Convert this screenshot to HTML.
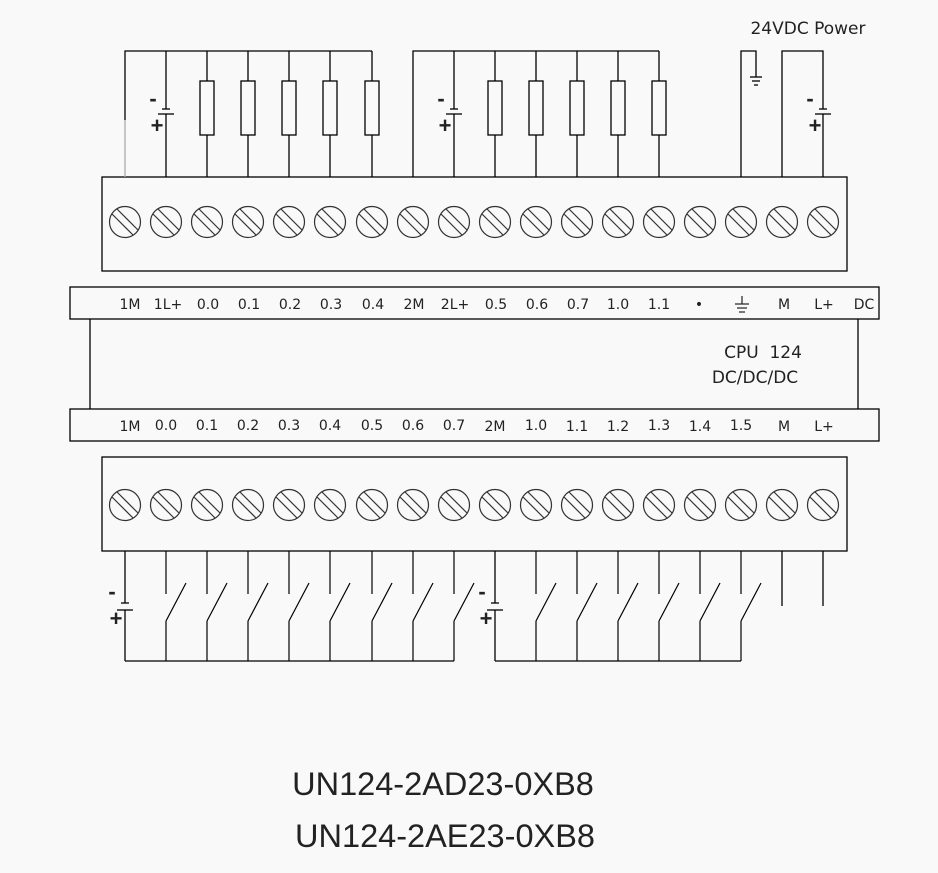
<!DOCTYPE html>
<html><head><meta charset="utf-8"><style>
html,body{margin:0;padding:0;background:#f9f9f9;}
svg{display:block;}
text{font-family:"DejaVu Sans","Liberation Sans",sans-serif;fill:#222;}
text.lib{font-family:"Liberation Sans",sans-serif;}
</style></head><body>
<svg width="938" height="873" viewBox="0 0 938 873" xmlns="http://www.w3.org/2000/svg">
<defs>
<g id="t" fill="none" stroke="#333" stroke-width="1.2">
<circle r="15.5"/><line x1="-13" y1="-8" x2="8" y2="13"/><line x1="-8" y1="-13" x2="13" y2="8"/>
</g>
<g id="r"><rect x="-7" y="81" width="14" height="54" fill="#f9f9f9" stroke="#000" stroke-width="1.3"/></g>
</defs>
<g stroke="#000" stroke-width="1.3" fill="none">
<rect x="102" y="177" width="745" height="94"/>
<rect x="70" y="287" width="809" height="32"/>
<line x1="90" y1="319" x2="90" y2="409"/><line x1="858" y1="319" x2="858" y2="409"/>
<rect x="70" y="409" width="809" height="32"/>
<rect x="102" y="457" width="745" height="94"/>
<polyline points="125,120 125,51 372,51"/>
<line x1="125" y1="120" x2="125" y2="177" stroke="#aaa"/>
<line x1="166" y1="51" x2="166" y2="109"/><line x1="166" y1="114" x2="166" y2="177"/>
<line x1="162" y1="109" x2="170" y2="109"/><line x1="158" y1="114" x2="174" y2="114"/>
<line x1="207" y1="51" x2="207" y2="177"/><line x1="248" y1="51" x2="248" y2="177"/>
<line x1="289" y1="51" x2="289" y2="177"/><line x1="330" y1="51" x2="330" y2="177"/>
<line x1="372" y1="51" x2="372" y2="177"/>
<polyline points="413,177 413,51 659,51"/>
<line x1="454" y1="51" x2="454" y2="109"/><line x1="454" y1="114" x2="454" y2="177"/>
<line x1="450" y1="109" x2="458" y2="109"/><line x1="446" y1="114" x2="462" y2="114"/>
<line x1="495" y1="51" x2="495" y2="177"/><line x1="536" y1="51" x2="536" y2="177"/>
<line x1="577" y1="51" x2="577" y2="177"/><line x1="618" y1="51" x2="618" y2="177"/>
<line x1="659" y1="51" x2="659" y2="177"/>
<polyline points="741,177 741,51 756,51 756,77"/>
<line x1="750" y1="77" x2="762" y2="77"/><line x1="752" y1="81" x2="760" y2="81"/><line x1="754" y1="85" x2="758" y2="85"/>
<polyline points="782,177 782,51 823,51 823,109"/>
<line x1="823" y1="114" x2="823" y2="177"/>
<line x1="819" y1="109" x2="827" y2="109"/><line x1="815" y1="114" x2="831" y2="114"/>
<line x1="125" y1="551" x2="125" y2="603"/><line x1="125" y1="610" x2="125" y2="661"/>
<line x1="121" y1="603" x2="129" y2="603"/><line x1="117" y1="610" x2="133" y2="610"/>
<line x1="125" y1="661" x2="454" y2="661"/>
<line x1="495" y1="551" x2="495" y2="603"/><line x1="495" y1="610" x2="495" y2="661"/>
<line x1="491" y1="603" x2="499" y2="603"/><line x1="487" y1="610" x2="503" y2="610"/>
<line x1="495" y1="661" x2="741" y2="661"/>
<line x1="782" y1="551" x2="782" y2="606"/><line x1="823" y1="551" x2="823" y2="606"/>
</g>
<g fill="#f9f9f9"><use href="#r" x="207"/><use href="#r" x="248"/><use href="#r" x="289"/><use href="#r" x="330"/><use href="#r" x="372"/>
<use href="#r" x="495"/><use href="#r" x="536"/><use href="#r" x="577"/><use href="#r" x="618"/><use href="#r" x="659"/></g>
<g stroke="#000" stroke-width="1.2" fill="none">
<path d="M166 551V594M166 621L186 583M166 621V661"/>
<path d="M207 551V594M207 621L227 583M207 621V661"/>
<path d="M248 551V594M248 621L268 583M248 621V661"/>
<path d="M289 551V594M289 621L309 583M289 621V661"/>
<path d="M330 551V594M330 621L350 583M330 621V661"/>
<path d="M372 551V594M372 621L392 583M372 621V661"/>
<path d="M413 551V594M413 621L433 583M413 621V661"/>
<path d="M454 551V594M454 621L474 583M454 621V661"/>
<path d="M536 551V594M536 621L556 583M536 621V661"/>
<path d="M577 551V594M577 621L597 583M577 621V661"/>
<path d="M618 551V594M618 621L638 583M618 621V661"/>
<path d="M659 551V594M659 621L679 583M659 621V661"/>
<path d="M700 551V594M700 621L720 583M700 621V661"/>
<path d="M741 551V594M741 621L761 583M741 621V661"/>
</g>
<g>
<use href="#t" x="125" y="222"/><use href="#t" x="166" y="222"/><use href="#t" x="207" y="222"/><use href="#t" x="248" y="222"/><use href="#t" x="289" y="222"/><use href="#t" x="330" y="222"/><use href="#t" x="372" y="222"/><use href="#t" x="413" y="222"/><use href="#t" x="454" y="222"/><use href="#t" x="495" y="222"/><use href="#t" x="536" y="222"/><use href="#t" x="577" y="222"/><use href="#t" x="618" y="222"/><use href="#t" x="659" y="222"/><use href="#t" x="700" y="222"/><use href="#t" x="741" y="222"/><use href="#t" x="782" y="222"/><use href="#t" x="823" y="222"/>
<use href="#t" x="125" y="505"/><use href="#t" x="166" y="505"/><use href="#t" x="207" y="505"/><use href="#t" x="248" y="505"/><use href="#t" x="289" y="505"/><use href="#t" x="330" y="505"/><use href="#t" x="372" y="505"/><use href="#t" x="413" y="505"/><use href="#t" x="454" y="505"/><use href="#t" x="495" y="505"/><use href="#t" x="536" y="505"/><use href="#t" x="577" y="505"/><use href="#t" x="618" y="505"/><use href="#t" x="659" y="505"/><use href="#t" x="700" y="505"/><use href="#t" x="741" y="505"/><use href="#t" x="782" y="505"/><use href="#t" x="823" y="505"/>
</g>
<g font-weight="bold" font-size="22" text-anchor="middle">
<text class="lib" x="153" y="106">-</text><text class="lib" x="157" y="133">+</text>
<text class="lib" x="441" y="106">-</text><text class="lib" x="445" y="133">+</text>
<text class="lib" x="810" y="106">-</text><text class="lib" x="815" y="133">+</text>
<text class="lib" x="112" y="599">-</text><text class="lib" x="116" y="626">+</text>
<text class="lib" x="482" y="599">-</text><text class="lib" x="486" y="626">+</text>
</g>
<text x="808" y="34" font-size="17" text-anchor="middle">24VDC Power</text>
<g font-size="14" text-anchor="middle">
<text x="130" y="309">1M</text><text x="168" y="309">1L+</text><text x="208" y="309">0.0</text><text x="249" y="309">0.1</text><text x="290" y="309">0.2</text><text x="331" y="309">0.3</text><text x="373" y="309">0.4</text><text x="414" y="309">2M</text><text x="455" y="309">2L+</text><text x="496" y="309">0.5</text><text x="537" y="309">0.6</text><text x="578" y="309">0.7</text><text x="618" y="309">1.0</text><text x="659" y="309">1.1</text><text x="699" y="309">•</text><text x="784" y="309">M</text><text x="824" y="309">L+</text><text x="864" y="309">DC</text>
<text x="130" y="431">1M</text><text x="166" y="430">0.0</text><text x="207" y="430">0.1</text><text x="248" y="430">0.2</text><text x="289" y="430">0.3</text><text x="330" y="430">0.4</text><text x="372" y="430">0.5</text><text x="413" y="430">0.6</text><text x="454" y="430">0.7</text><text x="495" y="431">2M</text><text x="536" y="430">1.0</text><text x="577" y="431">1.1</text><text x="618" y="431">1.2</text><text x="659" y="430">1.3</text><text x="700" y="431">1.4</text><text x="741" y="430">1.5</text><text x="784" y="431">M</text><text x="824" y="431">L+</text>
</g>
<g stroke="#222" stroke-width="1.2"><line x1="742" y1="296" x2="742" y2="304"/><line x1="735" y1="304" x2="749" y2="304"/><line x1="737" y1="308" x2="747" y2="308"/><line x1="739" y1="312" x2="745" y2="312"/></g>
<text x="763" y="358" font-size="17" text-anchor="middle">CPU&#160;&#160;124</text>
<text x="755" y="383" font-size="17" text-anchor="middle">DC/DC/DC</text>
<g font-size="32.5" text-anchor="middle">
<text class="lib" x="443" y="795" fill="#111">UN124-2AD23-0XB8</text>
<text class="lib" x="445" y="847" fill="#111">UN124-2AE23-0XB8</text>
</g>
</svg>
</body></html>
